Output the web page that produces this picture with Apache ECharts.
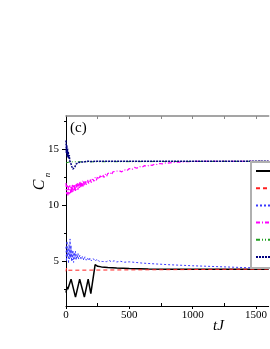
<!DOCTYPE html>
<html><head><meta charset="utf-8">
<script src="https://cdn.jsdelivr.net/npm/echarts@6/dist/echarts.min.js"></script>
<style>html,body{margin:0;padding:0;background:#fff}#c{width:270px;height:349px}</style>
</head><body><div id="c"></div>
<script>
// ---- data ----
const seriesNames = ['n=1', 'n=2', 'n=3', 'n=4', 'n=5', 'n=6'];
const xTicks = [0, 500, 1000, 1500];
const yTicks = [5, 10, 15];

const tBlack = [0, 8, 14, 40, 75, 108, 145, 175, 196, 230, 250, 280, 330, 400, 500, 650, 800, 1000, 1300, 1600];
const vBlack = [2.2, 2.7, 2.5, 3.4, 1.8, 3.4, 1.8, 3.4, 2.1, 4.7, 4.55, 4.5, 4.45, 4.4, 4.35, 4.31, 4.29, 4.28, 4.28, 4.28];

const tRed = [0, 4, 8, 12, 1600];
const vRed = [4.1, 4.4, 4.2, 4.3, 4.3];

const tBlue = [0, 4, 8, 12, 16, 20, 24, 28, 32, 36, 40, 44, 48, 52, 56, 60, 65, 70, 75, 80, 85, 90, 95, 100, 110, 120, 130, 140, 150, 160, 170, 180, 190, 200, 215, 230, 245, 260, 275, 290, 305, 320, 340, 360, 380, 400, 430, 460, 500, 550, 600, 700, 800, 900, 1000, 1200, 1400, 1600];
const vBlue = [6.3, 5.0, 6.8, 5.4, 6.2, 4.8, 6.5, 5.2, 7.0, 5.3, 6.4, 5.0, 6.0, 5.1, 5.9, 4.9, 5.8, 5.2, 5.9, 5.1, 5.6, 5.3, 5.7, 5.2, 5.55, 5.15, 5.45, 5.1, 5.4, 5.1, 5.3, 5.05, 5.3, 5.05, 5.25, 5.0, 5.2, 5.0, 5.15, 4.98, 5.12, 4.97, 5.08, 4.95, 5.05, 4.94, 5.0, 4.92, 4.95, 4.9, 4.84, 4.77, 4.7, 4.65, 4.6, 4.52, 4.44, 4.38];

const tMagenta = [0, 5, 10, 15, 20, 25, 30, 35, 40, 45, 50, 55, 60, 65, 70, 75, 80, 85, 90, 95, 100, 105, 110, 115, 120, 125, 130, 135, 140, 145, 150,
  160, 170, 180, 190, 200, 210, 220, 230, 240, 250, 260, 270, 280, 290, 300, 310, 320, 330, 340, 350, 360, 370, 380, 390, 400,
  420, 440, 460, 480, 500, 520, 540, 560, 580, 600, 620, 640, 660, 680, 700, 720, 740, 760, 780, 800, 850, 900, 950, 1000, 1100, 1600];
const vMagenta = [12.0, 11.0, 11.8, 10.9, 11.7, 11.0, 11.8, 11.1, 11.7, 11.1, 11.9, 11.2, 11.8, 11.3, 11.9, 11.3, 11.9, 11.4, 12.0, 11.4, 12.0, 11.5, 12.1, 11.6, 12.1, 11.7, 12.2, 11.7, 12.2, 11.8, 12.2,
  11.85, 12.3, 11.95, 12.35, 12.05, 12.45, 12.15, 12.5, 12.25, 12.6, 12.35, 12.65, 12.45, 12.75, 12.5, 12.8, 12.6, 12.85, 12.7, 12.95, 12.75, 13.0, 12.85, 13.05, 12.9,
  13.1, 13.0, 13.2, 13.1, 13.3, 13.2, 13.4, 13.32, 13.48, 13.42, 13.56, 13.5, 13.62, 13.58, 13.7, 13.66, 13.75, 13.72, 13.8, 13.77, 13.85, 13.88, 13.92, 13.93, 13.95, 13.95];

const tGreen = [0, 30, 1600];
const vGreen = [13.8, 13.9, 13.95];

const tNavy = [0, 3, 6, 9, 12, 15, 18, 22, 26, 30, 35, 40, 45, 50, 55, 60, 65, 70, 75, 80, 90, 100, 110, 120, 135, 150, 170, 200, 250, 300, 400, 1600];
const vNavy = [15.8, 14.7, 15.4, 14.4, 15.1, 14.3, 14.8, 14.2, 14.5, 14.0, 13.9, 13.7, 13.5, 13.35, 13.25, 13.15, 13.3, 13.45, 13.6, 13.7, 13.8, 13.85, 13.9, 13.88, 13.93, 13.9, 13.95, 13.93, 13.95, 13.95, 13.95, 13.95];

// ---- chart ----
const FONT = 'Liberation Serif';
const pairs = (t, v) => t.map((x, i) => [x, v[i]]);
const mk = (name, t, v, color, type, width) => ({
  name, type: 'line', data: pairs(t, v), symbol: 'none', showSymbol: false,
  lineStyle: { color, type, width }, itemStyle: { color }, animation: false, z: 3
});

const chart = echarts.init(document.getElementById('c'), null, { renderer: 'canvas' });
chart.setOption({
  animation: false,
  backgroundColor: '#fff',
  grid: { left: 66, top: 116, right: 0, height: 190, containLabel: false },
  xAxis: [
    { type: 'value', position: 'bottom', min: 0, max: 1600, interval: 500,
      axisLine: { lineStyle: { color: '#000', width: 1 } },
      axisTick: { customValues: xTicks, length: 3, lineStyle: { color: '#000' } },
      axisLabel: { customValues: xTicks, formatter: v => String(v), margin: 4, color: '#000', fontFamily: FONT, fontSize: 11 },
      splitLine: { show: false } },
    { type: 'value', position: 'bottom', min: 0, max: 1600,
      axisLine: { show: false },
      axisTick: { customValues: [250, 750, 1250], inside: true, length: 3, lineStyle: { color: '#000' } },
      axisLabel: { show: false }, splitLine: { show: false } },
    { type: 'value', position: 'top', min: 0, max: 1600,
      axisLine: { lineStyle: { color: '#888', width: 1.5 } },
      axisTick: { customValues: [250, 500, 750, 1000, 1250, 1500], inside: true, length: 3, lineStyle: { color: '#888' } },
      axisLabel: { show: false }, splitLine: { show: false } }
  ],
  yAxis: [
    { type: 'value', position: 'left', min: 1, max: 18,
      axisLine: { lineStyle: { color: '#000', width: 1 } },
      axisTick: { customValues: yTicks, length: 4, lineStyle: { color: '#000' } },
      axisLabel: { customValues: yTicks, margin: 7, color: '#000', fontFamily: FONT, fontSize: 11 },
      splitLine: { show: false } },
    { type: 'value', position: 'left', min: 1, max: 18,
      axisLine: { show: false },
      axisTick: { customValues: [2.5, 7.5, 12.5, 17.5], length: 2, lineStyle: { color: '#000' } },
      axisLabel: { show: false }, splitLine: { show: false } }
  ],
  legend: {
    orient: 'vertical', left: 251, top: 162, padding: [3, 10, 5, 4],
    itemWidth: 30, itemHeight: 12, itemGap: 5.2,
    borderColor: '#b0b0b0', borderWidth: 2,
    itemStyle: { opacity: 0 },
    textStyle: { fontFamily: FONT, fontSize: 11, lineHeight: 12, color: '#000' },
    data: seriesNames
  },
  series: [
    mk(seriesNames[0], tBlack, vBlack, '#000000', 'solid', 1.5),
    mk(seriesNames[1], tRed, vRed, '#ff2020', [4, 3], 1),
    mk(seriesNames[2], tBlue, vBlue, '#3a3aff', [2, 2], 1),
    mk(seriesNames[3], tMagenta, vMagenta, '#ff00ff', [4, 2, 1, 2], 1.2),
    mk(seriesNames[4], tGreen, vGreen, '#22a022', [4, 2, 1, 2, 1, 2], 1),
    mk(seriesNames[5], tNavy, vNavy, '#000080', [2, 1], 1.5)
  ],
  graphic: [
    { type: 'text', left: 70, top: 121, style: { text: '(c)', fontFamily: FONT, fontSize: 15, fill: '#000' } },
    { type: 'text', left: 213, top: 319, style: { text: 'tJ', fontFamily: FONT, fontStyle: 'italic', fontSize: 15, fill: '#000' } },
    { type: 'text', x: 40, y: 185, rotation: Math.PI / 2,
      style: { text: 'C', fontFamily: FONT, fontStyle: 'italic', fontSize: 16, fill: '#000', align: 'center', verticalAlign: 'middle' } },
    { type: 'text', x: 47.5, y: 175, rotation: Math.PI / 2,
      style: { text: 'n', fontFamily: FONT, fontStyle: 'italic', fontSize: 9, fill: '#000', align: 'center', verticalAlign: 'middle' } }
  ]
});
</script></body></html>
